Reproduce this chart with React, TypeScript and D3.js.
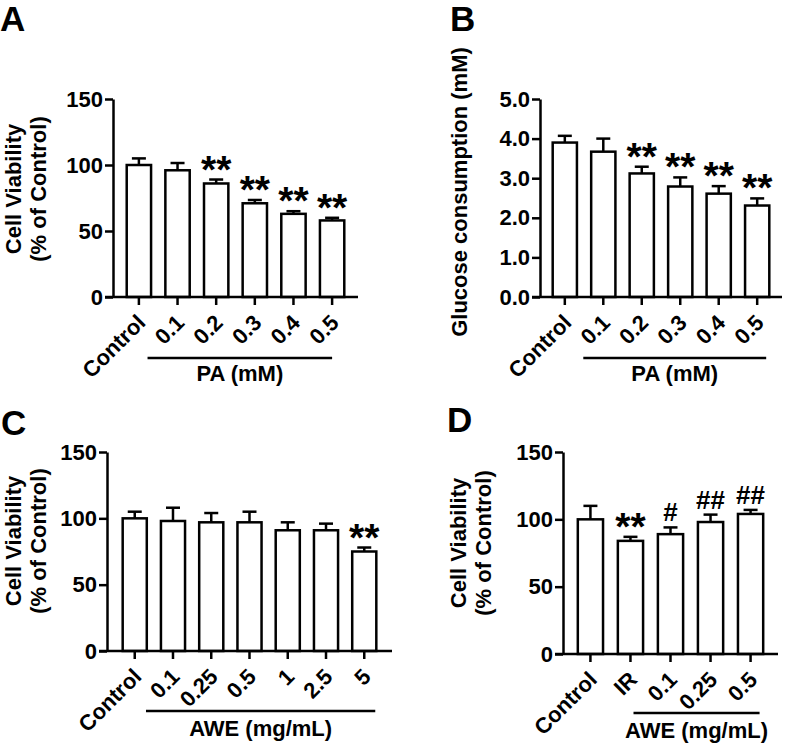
import React, { useEffect, useRef } from 'react';
import * as d3 from 'd3';

// Panel A: cell viability vs PA
const catsA = ["Control", "0.1", "0.2", "0.3", "0.4", "0.5"];
const valsA = [100, 96, 86, 71, 63, 58];
const errA = [5, 5.5, 3, 2.5, 2, 2];
const sigA = ["", "", "**", "**", "**", "**"];

// Panel B: glucose consumption vs PA
const catsB = ["Control", "0.1", "0.2", "0.3", "0.4", "0.5"];
const valsB = [3.9, 3.67, 3.12, 2.79, 2.61, 2.31];
const errB = [0.17, 0.33, 0.17, 0.23, 0.19, 0.18];
const sigB = ["", "", "**", "**", "**", "**"];

// Panel C: cell viability vs AWE
const catsC = ["Control", "0.1", "0.25", "0.5", "1", "2.5", "5"];
const valsC = [100, 98, 97, 97, 91, 91, 75];
const errC = [5, 10, 7, 8, 6, 5, 3];
const sigC = ["", "", "", "", "", "", "**"];

// Panel D: IR model + AWE
const catsD = ["Control", "IR", "0.1", "0.25", "0.5"];
const valsD = [100, 84, 89, 98, 104];
const errD = [10, 3, 5, 5.5, 3];
const sigD = ["", "**", "#", "##", "##"];

const ticksPct = [0, 50, 100, 150];
const ticksGlu = [0, 1, 2, 3, 4, 5];

const FONT = "'Liberation Sans', Arial, Helvetica, sans-serif";
const SW = 2.5;

interface Panel {
  letter: string;
  letterX: number;
  letterY: number;
  cats: string[];
  vals: number[];
  errs: number[];
  sig: string[];
  yMax: number;
  ticks: number[];
  fmt: (d: number) => string;
  left: number;
  right: number;
  top: number;
  bottom: number;
  padOuter: number;
  title: string[];
  titleX: number[];
  titleY: number;
  groupFrom: number;
  groupLabel: string;
  lineY: number;
  lineStart: number;
  lineEnd: number;
  groupY: number;
}

const panels: Panel[] = [
  {
    letter: "A", letterX: 0, letterY: 31,
    cats: catsA, vals: valsA, errs: errA, sig: sigA,
    yMax: 150, ticks: ticksPct, fmt: d => String(d),
    left: 113, right: 358, top: 99, bottom: 297, padOuter: 0.355,
    title: ["Cell Viability", "(% of Control)"], titleX: [21, 46], titleY: 189,
    groupFrom: 1, groupLabel: "PA (mM)", lineY: 358, lineStart: -30, lineEnd: 0, groupY: 381,
  },
  {
    letter: "B", letterX: 450, letterY: 31,
    cats: catsB, vals: valsB, errs: errB, sig: sigB,
    yMax: 5, ticks: ticksGlu, fmt: d => d.toFixed(1),
    left: 540, right: 782, top: 99, bottom: 297, padOuter: 0.33,
    title: ["Glucose consumption (mM)"], titleX: [467], titleY: 192,
    groupFrom: 1, groupLabel: "PA (mM)", lineY: 358, lineStart: -20, lineEnd: 9, groupY: 381,
  },
  {
    letter: "C", letterX: 1, letterY: 435,
    cats: catsC, vals: valsC, errs: errC, sig: sigC,
    yMax: 150, ticks: ticksPct, fmt: d => String(d),
    left: 107, right: 392, top: 452, bottom: 651, padOuter: 0.41,
    title: ["Cell Viability", "(% of Control)"], titleX: [21, 46], titleY: 541,
    groupFrom: 1, groupLabel: "AWE (mg/mL)", lineY: 711, lineStart: -27, lineEnd: 11, groupY: 736,
  },
  {
    letter: "D", letterX: 447, letterY: 432,
    cats: catsD, vals: valsD, errs: errD, sig: sigD,
    yMax: 150, ticks: ticksPct, fmt: d => String(d),
    left: 563, right: 778, top: 452, bottom: 654, padOuter: 0.37,
    title: ["Cell Viability", "(% of Control)"], titleX: [466, 491], titleY: 543,
    groupFrom: 2, groupLabel: "AWE (mg/mL)", lineY: 713, lineStart: -37, lineEnd: 9, groupY: 738,
  },
];

const App: React.FC = () => {
  const svgRef = useRef<SVGSVGElement>(null);

  useEffect(() => {
    if (!svgRef.current) return;
    const svg = d3.select(svgRef.current);
    svg.selectAll("*").remove();

    panels.forEach(p => {
      const g = svg.append("g").attr("font-family", FONT).attr("font-weight", "bold");

      const x = d3.scaleBand<string>()
        .domain(p.cats)
        .range([p.left, p.right])
        .paddingInner(0.37)
        .paddingOuter(p.padOuter);

      const y = d3.scaleLinear()
        .domain([0, p.yMax])
        .range([p.bottom, p.top]);

      // panel letter
      g.append("text")
        .attr("x", p.letterX)
        .attr("y", p.letterY)
        .attr("font-size", "35px")
        .attr("fill", "#000")
        .text(p.letter);

      // bars
      g.selectAll(".bar")
        .data(p.vals)
        .enter()
        .append("rect")
        .attr("x", (_, i) => x(p.cats[i]) || 0)
        .attr("y", d => y(d))
        .attr("width", x.bandwidth())
        .attr("height", d => p.bottom - y(d))
        .attr("fill", "#fff")
        .attr("stroke", "#000")
        .attr("stroke-width", SW);

      // error bars (upper only) + significance marks
      const cx = (i: number) => (x(p.cats[i]) || 0) + x.bandwidth() / 2;
      p.vals.forEach((v, i) => {
        const yTop = y(v + p.errs[i]);
        g.append("line")
          .attr("x1", cx(i)).attr("x2", cx(i))
          .attr("y1", y(v)).attr("y2", yTop)
          .attr("stroke", "#000").attr("stroke-width", SW);
        g.append("line")
          .attr("x1", cx(i) - 7).attr("x2", cx(i) + 7)
          .attr("y1", yTop).attr("y2", yTop)
          .attr("stroke", "#000").attr("stroke-width", SW);

        const s = p.sig[i];
        if (s) {
          const star = s.startsWith("*");
          g.append("text")
            .attr("x", cx(i))
            .attr("y", star ? yTop + 3 : yTop - 6)
            .attr("text-anchor", "middle")
            .attr("font-size", star ? "39px" : "26px")
            .attr("fill", "#000")
            .text(s);
        }
      });

      // y axis
      g.append("g")
        .attr("transform", `translate(${p.left},0)`)
        .call(d3.axisLeft(y).tickValues(p.ticks).tickFormat(d => p.fmt(d as number)).tickSize(8).tickPadding(2).tickSizeOuter(0))
        .call(a => a.select(".domain").attr("stroke-width", SW))
        .call(a => a.selectAll(".tick line").attr("stroke-width", SW))
        .call(a => a.selectAll(".tick text")
          .attr("font-size", "22px")
          .attr("font-family", FONT)
          .attr("font-weight", "bold")
          .attr("fill", "#000"));

      // x axis line
      g.append("line")
        .attr("x1", p.left - 8).attr("x2", p.right)
        .attr("y1", p.bottom).attr("y2", p.bottom)
        .attr("stroke", "#000").attr("stroke-width", SW);

      // x ticks and rotated labels
      p.cats.forEach((c, i) => {
        g.append("line")
          .attr("x1", cx(i)).attr("x2", cx(i))
          .attr("y1", p.bottom).attr("y2", p.bottom + 8)
          .attr("stroke", "#000").attr("stroke-width", SW);
        g.append("text")
          .attr("transform", `translate(${cx(i) + 8},${p.bottom + 27}) rotate(-45)`)
          .attr("text-anchor", "end")
          .attr("font-size", "22px")
          .attr("fill", "#000")
          .text(c);
      });

      // y title
      p.title.forEach((t, k) => {
        g.append("text")
          .attr("transform", `translate(${p.titleX[k]},${p.titleY}) rotate(-90)`)
          .attr("text-anchor", "middle")
          .attr("font-size", "22px")
          .attr("fill", "#000")
          .text(t);
      });

      // group underline + label
      const x0 = cx(p.groupFrom) + p.lineStart;
      const x1 = cx(p.cats.length - 1) + p.lineEnd;
      g.append("line")
        .attr("x1", x0).attr("x2", x1)
        .attr("y1", p.lineY).attr("y2", p.lineY)
        .attr("stroke", "#000").attr("stroke-width", SW);
      g.append("text")
        .attr("x", (x0 + x1) / 2)
        .attr("y", p.groupY)
        .attr("text-anchor", "middle")
        .attr("font-size", "22px")
        .attr("fill", "#000")
        .text(p.groupLabel);
    });
  }, []);

  return (
    <svg
      ref={svgRef}
      width={786}
      height={747}
      style={{ position: "absolute", left: 0, top: 0, background: "#fff" }}
    />
  );
};

export default App;
